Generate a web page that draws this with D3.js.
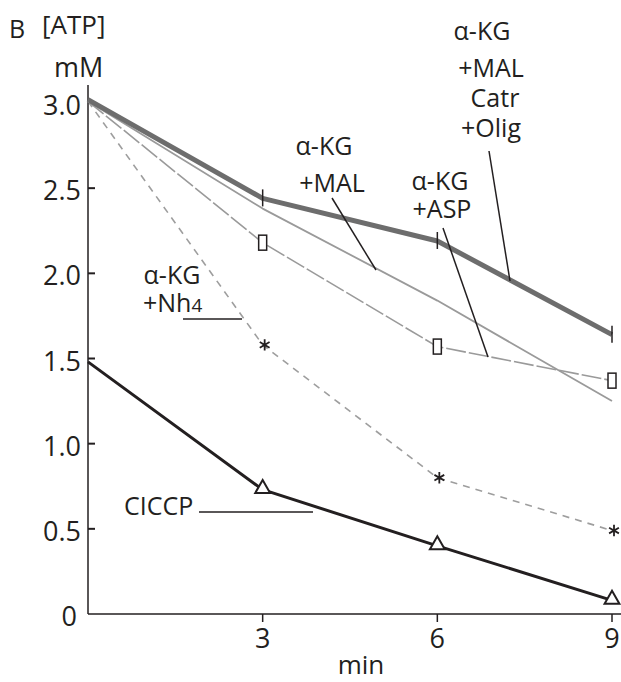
<!DOCTYPE html>
<html>
<head>
<meta charset="utf-8">
<script src="https://cdn.jsdelivr.net/npm/d3@7"></script>
<style>
  html, body { margin: 0; padding: 0; background: #fff; }
  svg { display: block; }
</style>
</head>
<body>
<svg id="chart"></svg>
<script>
// ---- data ----
const minutes = [0, 3, 6, 9];
const atpMalCatrOlig = [3.02, 2.44, 2.19, 1.64];
const atpMal = [3.01, 2.38, 1.84, 1.25];
const atpAsp = [3.01, 2.18, 1.57, 1.37];
const atpNh4 = [3.01, 1.58, 0.80, 0.49];
const atpCiccp = [1.48, 0.73, 0.40, 0.08];
const yTicks = [0, 0.5, 1.0, 1.5, 2.0, 2.5, 3.0];
const yTickLabels = ["0", "0.5", "1.0", "1.5", "2.0", "2.5", "3.0"];
const xTicks = [3, 6, 9];

const W = 621, H = 682;
const FONT = "'Open Sans', sans-serif";
const INK = "#231f20";

const x = d3.scaleLinear().domain([0, 9]).range([88, 612]);
const y = d3.scaleLinear().domain([0, 3]).range([614, 103]);

const svg = d3.select("#chart").attr("width", W).attr("height", H)
  .attr("viewBox", `0 0 ${W} ${H}`);

// axes
svg.append("line")
  .attr("x1", x(0)).attr("x2", x(0)).attr("y1", y(0)).attr("y2", 85)
  .attr("stroke", INK).attr("stroke-width", 1.5);
svg.append("line")
  .attr("x1", x(0)).attr("x2", W).attr("y1", y(0)).attr("y2", y(0))
  .attr("stroke", INK).attr("stroke-width", 1.5);

yTicks.forEach((t, i) => {
  if (t > 0) {
    svg.append("line")
      .attr("x1", x(0)).attr("x2", x(0) + 7).attr("y1", y(t)).attr("y2", y(t))
      .attr("stroke", INK).attr("stroke-width", 2);
  }
  svg.append("text")
    .attr("x", t === 0 ? 77 : 81).attr("y", y(t) + 12)
    .attr("text-anchor", "end")
    .style("font-family", FONT).style("font-size", "27px").style("fill", INK)
    .text(yTickLabels[i]);
});

xTicks.forEach(t => {
  svg.append("line")
    .attr("x1", x(t)).attr("x2", x(t)).attr("y1", y(0)).attr("y2", y(0) + 8)
    .attr("stroke", INK).attr("stroke-width", 1.5);
  svg.append("text")
    .attr("x", x(t)).attr("y", 648)
    .attr("text-anchor", "middle")
    .style("font-family", FONT).style("font-size", "27px").style("fill", INK)
    .text(t);
});

svg.append("text").attr("x", 361).attr("y", 674).attr("text-anchor", "middle")
  .style("font-family", FONT).style("font-size", "26px").style("fill", INK).text("min");
svg.append("text").attr("x", 9).attr("y", 38)
  .style("font-family", FONT).style("font-size", "25px").style("fill", INK).text("B");
svg.append("text").attr("x", 42).attr("y", 34)
  .style("font-family", FONT).style("font-size", "26px").style("fill", INK).text("[ATP]");
svg.append("text").attr("x", 54).attr("y", 77)
  .style("font-family", FONT).style("font-size", "27px").style("fill", INK).text("mM");

// series
const line = d3.line().x((d, i) => x(minutes[i])).y(d => y(d));

function drawSeries(vals, color, width, dash) {
  svg.append("path").datum(vals)
    .attr("d", line)
    .attr("fill", "none")
    .attr("stroke", color)
    .attr("stroke-width", width)
    .attr("stroke-linejoin", "round")
    .attr("stroke-dasharray", dash || null);
}

drawSeries(atpNh4, "#9e9e9e", 1.6, "7,6");
drawSeries(atpAsp, "#9a9a9a", 1.6, "20,3");
drawSeries(atpMal, "#9a9a9a", 1.8);
drawSeries(atpMalCatrOlig, "#6d6d6d", 5);
drawSeries(atpCiccp, INK, 3);

// markers
minutes.forEach((m, i) => {
  if (i === 0) return;
  // vertical bars on thick series
  svg.append("line")
    .attr("x1", x(m)).attr("x2", x(m))
    .attr("y1", y(atpMalCatrOlig[i]) - 9).attr("y2", y(atpMalCatrOlig[i]) + 8)
    .attr("stroke", INK).attr("stroke-width", 1.5);
  // open rectangles on ASP
  svg.append("rect")
    .attr("x", x(m) - 4).attr("y", y(atpAsp[i]) - 7.5)
    .attr("width", 8).attr("height", 15)
    .attr("fill", "#fff").attr("stroke", INK).attr("stroke-width", 1.5);
  // asterisks on NH4
  svg.append("path")
    .attr("transform", `translate(${x(m) + 2},${y(atpNh4[i])})`)
    .attr("d", d3.symbol(d3.symbolAsterisk, 90)())
    .attr("fill", "none").attr("stroke", INK).attr("stroke-width", 1.8);
  // open triangles on CICCP
  svg.append("path")
    .attr("transform", `translate(${x(m)},${y(atpCiccp[i]) - 1})`)
    .attr("d", d3.symbol(d3.symbolTriangle, 95)())
    .attr("fill", "#fff").attr("stroke", INK).attr("stroke-width", 2);
});

// annotations
function label(txt, cx, by, anchor) {
  return svg.append("text").attr("x", cx).attr("y", by)
    .attr("text-anchor", anchor || "middle")
    .style("font-family", FONT).style("font-size", "25px").style("fill", INK)
    .text(txt);
}
function leader(x1, y1, x2, y2) {
  svg.append("line").attr("x1", x1).attr("y1", y1).attr("x2", x2).attr("y2", y2)
    .attr("stroke", INK).attr("stroke-width", 1.5);
}

label("α-KG", 482, 40);
label("+MAL", 491, 77);
label("Catr", 495, 107);
label("+Olig", 491, 137);
leader(489, 151, 510, 281);

label("α-KG", 324, 155);
label("+MAL", 332, 192);
leader(332, 198, 376, 270);

label("α-KG", 440, 190);
label("+ASP", 442, 218);
leader(443, 228, 488, 357);

label("α-KG", 172, 284);
const nh = label("+Nh", 143, 312, "start");
nh.append("tspan").style("font-size", "19px").text("4");
leader(183, 319, 242, 319);

label("CICCP", 124, 515, "start");
leader(199, 512, 313, 512);
</script>
</body>
</html>
